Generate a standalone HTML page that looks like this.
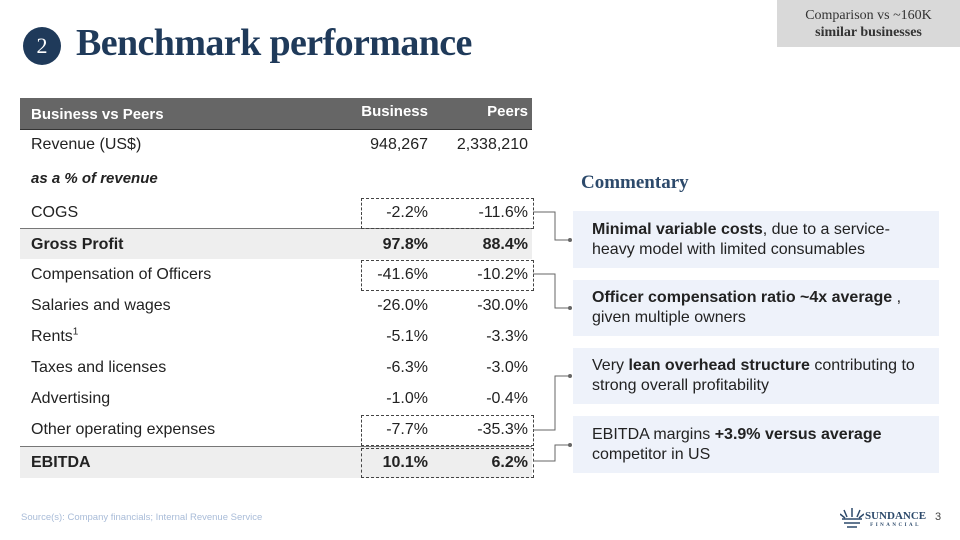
<!DOCTYPE html>
<html><head><meta charset="utf-8"><style>
body{margin:0;width:960px;height:540px;background:#fff;position:relative;overflow:hidden;font-family:"Liberation Sans",sans-serif;color:#222}
.a{position:absolute}
.row{position:absolute;left:20px;width:512px;height:31px;font-size:16px;line-height:31px}
.row span{position:absolute}
.l{left:11px}.b{right:104px}.p{right:4px}
.dash{position:absolute;left:361px;width:171px;border:1px dashed #444}
.box{position:absolute;left:573px;width:366px;background:#eef2fa;font-size:16px;line-height:20px;padding:0 18px 0 19px;box-sizing:border-box;display:flex;align-items:center;color:#222}
</style></head><body>
<div class="a" style="left:777px;top:0;width:183px;height:47px;background:#d9d9d9;font-family:'Liberation Serif',serif;font-size:14px;line-height:17px;text-align:center;color:#333;padding-top:7px;box-sizing:border-box">Comparison vs ~160K<br><b>similar businesses</b></div>
<div class="a" style="left:23px;top:27px;width:38px;height:38px;border-radius:50%;background:#1f3a5a;color:#fff;font-family:'Liberation Serif',serif;font-size:22px;line-height:38px;text-align:center">2</div>
<div class="a" style="left:76px;top:21px;font-family:'Liberation Serif',serif;font-weight:bold;font-size:38px;color:#1f3a5a;letter-spacing:-0.6px">Benchmark performance</div>

<div class="a" style="left:20px;top:98px;width:512px;height:31px;background:#666;border-bottom:1px solid #333"></div>
<div class="row" style="top:98px;color:#fff;font-weight:bold;font-size:15px"><span class="l" style="top:1px">Business vs Peers</span><span class="b" style="top:-2px;right:104px">Business</span><span class="p" style="top:-2px">Peers</span></div>
<div class="row" style="top:129px"><span class="l">Revenue (US$)</span><span class="b">948,267</span><span class="p">2,338,210</span></div>
<div class="row" style="top:163px;font-size:15px"><span class="l" style="font-weight:bold;font-style:italic">as a % of revenue</span></div>
<div class="row" style="top:197px"><span class="l">COGS</span><span class="b">-2.2%</span><span class="p">-11.6%</span></div>
<div class="row" style="top:228px;background:#eee;border-top:1px solid #777;height:30px"><span class="l" style="font-weight:bold">Gross Profit</span><span class="b" style="font-weight:bold">97.8%</span><span class="p" style="font-weight:bold">88.4%</span></div>
<div class="row" style="top:259px"><span class="l">Compensation of Officers</span><span class="b">-41.6%</span><span class="p">-10.2%</span></div>
<div class="row" style="top:290px"><span class="l">Salaries and wages</span><span class="b">-26.0%</span><span class="p">-30.0%</span></div>
<div class="row" style="top:321px"><span class="l">Rents<sup style="font-size:10px;line-height:0">1</sup></span><span class="b">-5.1%</span><span class="p">-3.3%</span></div>
<div class="row" style="top:352px"><span class="l">Taxes and licenses</span><span class="b">-6.3%</span><span class="p">-3.0%</span></div>
<div class="row" style="top:383px"><span class="l">Advertising</span><span class="b">-1.0%</span><span class="p">-0.4%</span></div>
<div class="row" style="top:414px"><span class="l">Other operating expenses</span><span class="b">-7.7%</span><span class="p">-35.3%</span></div>
<div class="row" style="top:446px;background:#eee;border-top:1px solid #777;height:31px"><span class="l" style="font-weight:bold">EBITDA</span><span class="b" style="font-weight:bold">10.1%</span><span class="p" style="font-weight:bold">6.2%</span></div>

<div class="dash" style="top:198px;height:29px"></div>
<div class="dash" style="top:260px;height:29px"></div>
<div class="dash" style="top:415px;height:29px"></div>
<div class="dash" style="top:448px;height:28px"></div>

<svg class="a" style="left:0;top:0" width="960" height="540">
<g stroke="#666" fill="none" stroke-width="1">
<polyline points="533,212 555,212 555,240 570,240"/>
<polyline points="533,274 555,274 555,308 570,308"/>
<polyline points="533,430 555,430 555,376 570,376"/>
<polyline points="533,461 555,461 555,445 570,445"/>
</g>
<g fill="#666"><circle cx="570" cy="240" r="2"/><circle cx="570" cy="308" r="2"/><circle cx="570" cy="376" r="2"/><circle cx="570" cy="445" r="2"/></g>
</svg>

<div class="a" style="left:581px;top:172px;font-family:'Liberation Serif',serif;font-weight:bold;font-size:19px;color:#2d4a6b">Commentary</div>
<div class="box" style="top:211px;height:57px"><div><b>Minimal variable costs</b>, due to a service-<br>heavy model with limited consumables</div></div>
<div class="box" style="top:280px;height:56px"><div><b>Officer compensation ratio ~4x average</b>&nbsp;,<br>given multiple owners</div></div>
<div class="box" style="top:348px;height:56px"><div>Very <b>lean overhead structure</b> contributing to<br>strong overall profitability</div></div>
<div class="box" style="top:416px;height:57px"><div>EBITDA margins <b>+3.9% versus average</b><br>competitor in US</div></div>

<div class="a" style="left:21px;top:512px;font-size:9.5px;color:#a9bcd8">Source(s): Company financials; Internal Revenue Service</div>
<svg class="a" style="left:840px;top:507px" width="24" height="22"><g stroke="#2d4a6b" stroke-width="1.5" fill="none"><path d="M2 12 H22 M4 16 H20 M7 20 H17"/><path d="M12 10 V1 M7 10 L4 3 M17 10 L20 3 M5 11 L0 7 M19 11 L24 7"/></g></svg>
<div class="a" style="left:865px;top:511px;font-family:'Liberation Serif',serif;font-weight:bold;font-size:11px;color:#2d4a6b;line-height:11px">SUNDANCE<div style="font-size:5px;letter-spacing:2.5px;line-height:7px;text-align:center">FINANCIAL</div></div>
<div class="a" style="left:935px;top:511px;font-size:11px;color:#444">3</div>
</body></html>
